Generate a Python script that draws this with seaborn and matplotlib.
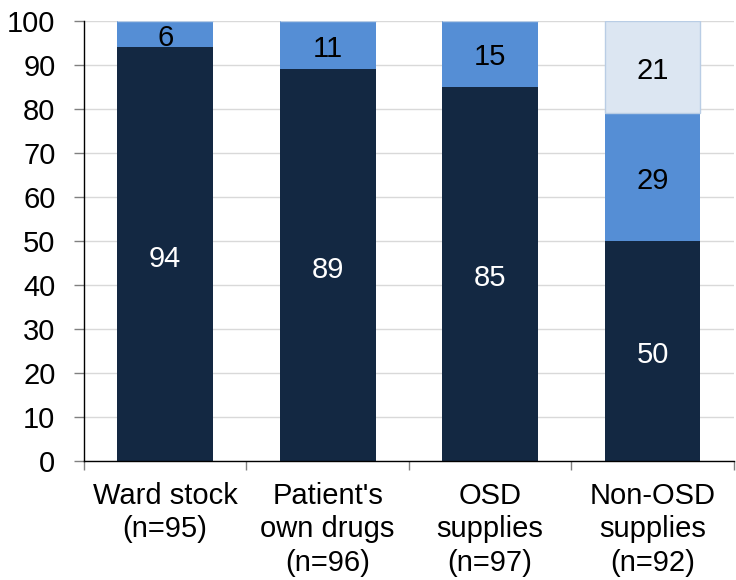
import numpy as np
import pandas as pd
import matplotlib
matplotlib.use("Agg")
import matplotlib.pyplot as plt
import seaborn as sns

categories = ["Ward stock\n(n=95)", "Patient's\nown drugs\n(n=96)", "OSD\nsupplies\n(n=97)", "Non-OSD\nsupplies\n(n=92)"]
dark_vals = [94, 89, 85, 50]
mid_vals = [6, 11, 15, 29]
light_vals = [0, 0, 0, 21]

sns.set_theme(style="white")
plt.rcParams['font.family'] = ['Liberation Sans', 'DejaVu Sans']

df = pd.DataFrame({"cat": categories, "dark": dark_vals, "mid": mid_vals, "light": light_vals})
df["mid_bottom"] = df["dark"]
df["light_bottom"] = df["dark"] + df["mid"]

fig = plt.figure(figsize=(7.36, 5.8), dpi=100)
ax = fig.add_axes([0.114, 0.205, 0.883, 0.759])

bw = 0.59
fs = 21
sns.barplot(data=df, x="cat", y="dark", color="#132842", saturation=1, width=bw,
            linewidth=0, ax=ax, zorder=2)
sns.barplot(data=df, x="cat", y="mid", bottom=df["mid_bottom"], color="#558ed5", saturation=1, width=bw,
            linewidth=0, ax=ax, zorder=2)
sns.barplot(data=df, x="cat", y="light", bottom=df["light_bottom"], color="#dce6f2", saturation=1, width=bw,
            edgecolor="#b9cde5", linewidth=1, ax=ax, zorder=2)

# segment labels, nudged slightly down like the original
for i in range(len(categories)):
    d, m, l = dark_vals[i], mid_vals[i], light_vals[i]
    ax.text(i, d / 2 - 1, str(d), ha="center", va="center", color="white", fontsize=fs, zorder=3)
    ax.text(i, d + m / 2 - 0.8, str(m), ha="center", va="center", color="black", fontsize=fs, zorder=3)
    if l > 0:
        ax.text(i, d + m + l / 2 - 0.8, str(l), ha="center", va="center", color="black", fontsize=fs, zorder=3)

ax.set_ylim(0, 100)
ax.set_xlim(-0.5, 3.5)
ax.set_yticks(np.arange(0, 101, 10))
ax.yaxis.grid(True, color="#d9d9d9", linewidth=1)
ax.set_axisbelow(True)
ax.set_xlabel("")
ax.set_ylabel("")

for s in ["top", "right"]:
    ax.spines[s].set_visible(False)
for s in ["left", "bottom"]:
    ax.spines[s].set_color("black")
    ax.spines[s].set_linewidth(1)

ax.tick_params(axis="y", which="major", direction="out", length=7.5, width=1, color="#808080",
               labelsize=fs, pad=13, left=True, labelcolor="black")
ax.tick_params(axis="x", which="major", length=0, labelsize=fs, pad=15, labelcolor="black")
ax.set_xticks(np.arange(-0.5, 3.6, 1.0), minor=True)
ax.tick_params(axis="x", which="minor", direction="out", length=6.5, width=1, color="#808080", bottom=True)
for lbl in ax.get_xticklabels():
    lbl.set_linespacing(1.25)

plt.savefig("out.png", dpi=100)
plt.close()
